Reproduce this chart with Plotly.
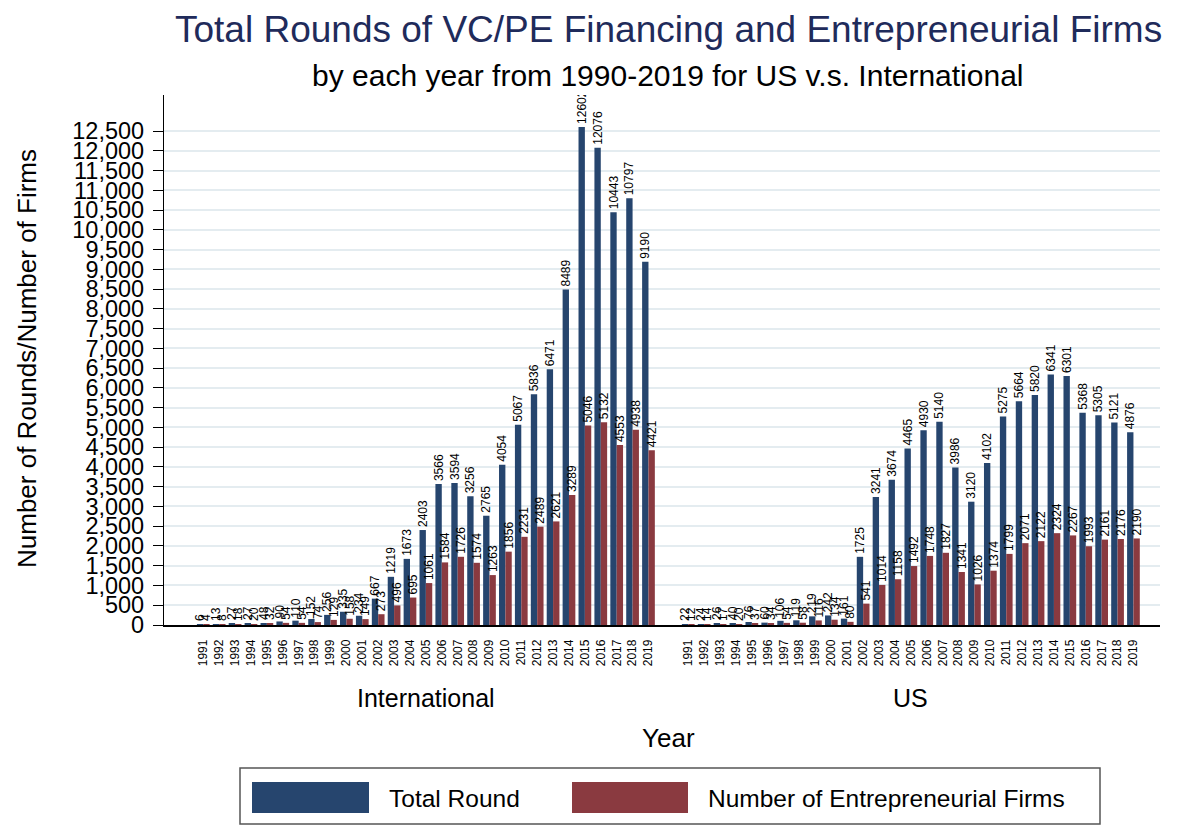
import plotly.graph_objects as go

# ---------------- data ----------------
years = list(range(1991, 2020))
regions = ["International", "US"]

intl_total = [6, 13, 27, 27, 48, 90, 110, 152, 256, 335, 234, 667, 1219, 1673, 2403,
              3566, 3594, 3256, 2765, 4054, 5067, 5836, 6471, 8489, 12602, 12076,
              10443, 10797, 9190]
intl_firms = [4, 8, 18, 20, 32, 54, 54, 74, 129, 158, 149, 273, 496, 695, 1061,
              1584, 1726, 1574, 1263, 1856, 2231, 2489, 2621, 3289, 5046, 5132,
              4553, 4938, 4421]
us_total = [22, 24, 26, 40, 76, 60, 106, 119, 219, 242, 161, 1725, 3241, 3674, 4465,
            4930, 5140, 3986, 3120, 4102, 5275, 5664, 5820, 6341, 6301, 5368, 5305,
            5121, 4876]
us_firms = [12, 14, 17, 20, 37, 34, 54, 58, 116, 134, 80, 541, 1014, 1158, 1492,
            1748, 1827, 1341, 1026, 1374, 1799, 2071, 2122, 2324, 2267, 1993, 2161,
            2176, 2190]

series_names = ["Total Round", "Number of Entrepreneurial Firms"]
y_tick_max = 12500
y_tick_step = 500

# ---------------- layout constants ----------------
PAGE_OFF = 8               # default body margin of the html page
WIN_W, WIN_H = 1177, 825
FIG_W, FIG_H = WIN_W - PAGE_OFF, WIN_H - PAGE_OFF
# plot area in window pixels
PL, PR, PT, PB = 164, 1160, 95, 625
M_L, M_R = PL - PAGE_OFF, WIN_W - PR
M_T, M_B = PT - PAGE_OFF, WIN_H - PB
GROUP_GAP = 1.5            # extra slots between the two region groups
X_PAD_L, X_PAD_R = 2.47, 1.67
Y_MAX = 13411
BLUE = "#26456E"
RED = "#8A3A40"
FONT = "Liberation Sans, Arial, Helvetica, sans-serif"


def px_x(p):
    return (p - PL) / (PR - PL)


def px_y(p):
    return (PB - p) / (PB - PT)


# category positions on a numeric axis: two groups separated by a gap
n = len(years)
pos_intl = [i for i in range(n)]
pos_us = [i + (n - 1) + 1 + GROUP_GAP for i in range(n)]
positions = pos_intl + pos_us
tick_text = [str(y) for y in years] * 2

total_vals = intl_total + us_total
firm_vals = intl_firms + us_firms

fig = go.Figure()
for name, vals, col in [(series_names[0], total_vals, BLUE),
                        (series_names[1], firm_vals, RED)]:
    fig.add_trace(go.Bar(
        x=positions, y=vals, name=name,
        marker=dict(color=col, line=dict(width=0)),
        text=[str(v) for v in vals],
        textposition="outside",
        textangle=-90,
        constraintext="none",
        cliponaxis=True,
        textfont=dict(size=12, color="black", family=FONT),
        showlegend=False,
        hovertemplate="%{y}<extra>" + name + "</extra>",
    ))

annotations = []
annotations.append(dict(text="Total Rounds of VC/PE Financing and Entrepreneurial Firms",
                        xref="paper", yref="paper", x=px_x(668), y=px_y(29),
                        xanchor="center", yanchor="middle", showarrow=False,
                        font=dict(size=37, color="#1F2B5B", family=FONT)))
annotations.append(dict(text="by each year from 1990-2019 for US v.s. International",
                        xref="paper", yref="paper", x=px_x(668), y=px_y(75),
                        xanchor="center", yanchor="middle", showarrow=False,
                        font=dict(size=30, color="black", family=FONT)))
annotations.append(dict(text="Number of Rounds/Number of Firms",
                        xref="paper", yref="paper", x=px_x(27), y=px_y(359),
                        xanchor="center", yanchor="middle", showarrow=False,
                        textangle=-90,
                        font=dict(size=26, color="black", family=FONT)))
for reg, pos in [(regions[0], pos_intl), (regions[1], pos_us)]:
    annotations.append(dict(text=reg, xref="x", yref="paper",
                            x=(pos[0] + pos[-1]) / 2, y=px_y(698),
                            xanchor="center", yanchor="middle", showarrow=False,
                            font=dict(size=25, color="black", family=FONT)))
annotations.append(dict(text="Year", xref="paper", yref="paper",
                        x=px_x(668), y=px_y(738),
                        xanchor="center", yanchor="middle", showarrow=False,
                        font=dict(size=26, color="black", family=FONT)))

shapes = [
    dict(type="rect", xref="paper", yref="paper",
         x0=px_x(240), x1=px_x(1100), y0=px_y(824), y1=px_y(768),
         line=dict(color="#555555", width=1.5), fillcolor="white", layer="below"),
    dict(type="rect", xref="paper", yref="paper",
         x0=px_x(252), x1=px_x(369), y0=px_y(813), y1=px_y(782),
         line=dict(width=0), fillcolor=BLUE),
    dict(type="rect", xref="paper", yref="paper",
         x0=px_x(572), x1=px_x(688), y0=px_y(813), y1=px_y(782),
         line=dict(width=0), fillcolor=RED),
]
annotations.append(dict(text=series_names[0], xref="paper", yref="paper",
                        x=px_x(387), y=px_y(798), xanchor="left", yanchor="middle",
                        showarrow=False, font=dict(size=24.5, color="black", family=FONT)))
annotations.append(dict(text=series_names[1], xref="paper", yref="paper",
                        x=px_x(706), y=px_y(798), xanchor="left", yanchor="middle",
                        showarrow=False, font=dict(size=24.5, color="black", family=FONT)))

fig.update_layout(
    width=FIG_W, height=FIG_H,
    margin=dict(l=M_L, r=M_R, t=M_T, b=M_B, pad=0),
    paper_bgcolor="white", plot_bgcolor="white",
    barmode="group", bargap=0.2, bargroupgap=0.0,
    font=dict(family=FONT, color="black"),
    annotations=annotations, shapes=shapes,
    showlegend=False,
)
fig.update_xaxes(
    range=[-X_PAD_L, pos_us[-1] + X_PAD_R],
    tickmode="array", tickvals=positions, ticktext=tick_text,
    tickangle=-90, tickfont=dict(size=12, family=FONT),
    ticks="", ticklabelstandoff=8,
    showline=True, linecolor="black", linewidth=1.5,
    showgrid=False, zeroline=False,
)
y_ticks = list(range(0, y_tick_max + 1, y_tick_step))
fig.update_yaxes(
    range=[0, Y_MAX], tickmode="array", tickvals=y_ticks,
    ticktext=[f"{v:,}" for v in y_ticks],
    tickfont=dict(size=23.5, family=FONT),
    ticks="outside", ticklen=10, tickwidth=1.2, tickcolor="black",
    ticklabelstandoff=4,
    showline=True, linecolor="black", linewidth=1.2,
    showgrid=True, gridcolor="#E4ECF0", gridwidth=1.5,
    zeroline=False,
)

fig.write_html("out.html")
